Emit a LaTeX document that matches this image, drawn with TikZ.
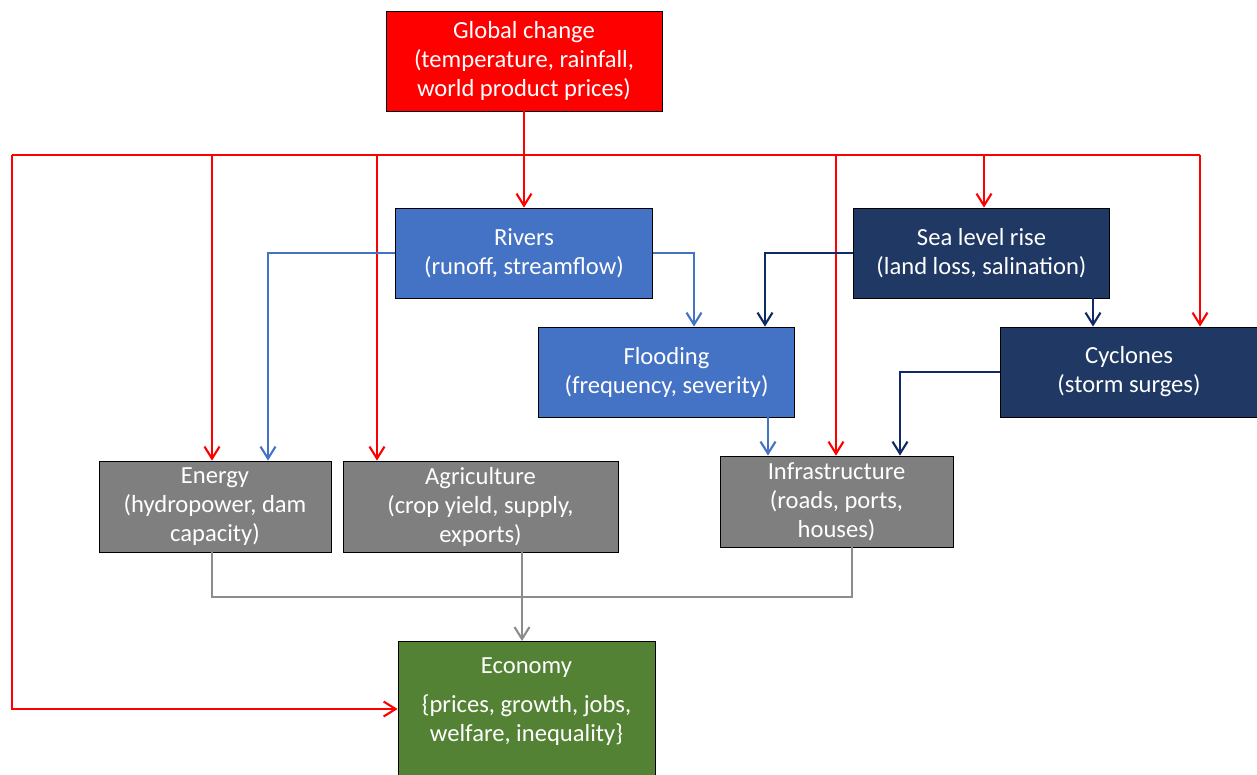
\documentclass[tikz,border=0pt]{standalone}
\usepackage{fontspec}
\setmainfont{Carlito}
\usetikzlibrary{arrows.meta}
\definecolor{chgred}{HTML}{FF0000}
\definecolor{rivblue}{HTML}{4472C4}
\definecolor{seanavy}{HTML}{203864}
\definecolor{linenavy}{HTML}{0F2A66}
\definecolor{sectgray}{HTML}{7F7F7F}
\definecolor{linegray}{HTML}{8C8C8C}
\definecolor{ecogreen}{HTML}{548235}

\begin{document}
\begin{tikzpicture}[x=0.02cm, y=-0.02cm,
  font=\fontsize{14}{16.5}\selectfont,
  box/.style={rectangle, draw=black, line width=0.5pt, text=white, align=center, inner sep=2pt},
  water/.style={box, minimum width=5.13cm, minimum height=1.8cm},
  sector/.style={box, fill=sectgray, minimum height=1.82cm},
  link/.style={line width=1.2pt, -{Straight Barb[length=0.24cm, width=0.3cm]}},
  redlink/.style={link, draw=chgred},
  bluelink/.style={link, draw=rivblue},
  navylink/.style={link, draw=linenavy},
  graylink/.style={link, draw=linegray}]

\useasboundingbox (0,0) rectangle (1257,774);

\node[box, fill=chgred, minimum width=5.52cm, minimum height=2cm] (global) at (524,61)
  {Global change\\(temperature, rainfall,\\world product prices)};

\node[water, fill=rivblue] (rivers)   at ( 524.0,253) {Rivers\\(runoff, streamflow)};
\node[water, fill=seanavy] (sea)      at ( 981.5,253) {Sea level rise\\(land loss, salination)};
\node[water, fill=rivblue] (flood)    at ( 666.5,372) {Flooding\\(frequency, severity)};
\node[water, fill=seanavy] (cyclones) at (1129.0,372) {Cyclones\\(storm surges)};

\node[sector, minimum width=4.64cm] (energy) at (215.0,506.5) {Energy\\(hydropower, dam\\capacity)};
\node[sector, minimum width=5.50cm] (agri)   at (480.5,506.5) {Agriculture\\(crop yield, supply,\\exports)};
\node[sector, minimum width=4.66cm] (infra)  at (836.5,501.5) {Infrastructure\\(roads, ports,\\houses)};

\node[box, fill=ecogreen, anchor=north, minimum width=5.14cm, inner ysep=0.32cm, text depth=1.2cm] (economy) at (526.5,641)
  {Economy\\[6pt]\{prices, growth, jobs,\\welfare, inequality\}};

\coordinate (busL) at (  12,155);
\coordinate (b1)   at ( 212,155);
\coordinate (b2)   at ( 377,155);
\coordinate (b3)   at ( 836,155);
\coordinate (b4)   at ( 984,155);
\coordinate (b5)   at (1200,155);

\draw[line width=1.2pt, chgred] (busL) -- (b5);
\draw[redlink] (global) -- (rivers);
\draw[redlink] (b1) -- (b1 |- energy.north);
\draw[redlink] (b2) -- (b2 |- agri.north);
\draw[redlink] (b3) -- (b3 |- infra.north);
\draw[redlink] (b4) -- (b4 |- sea.north);
\draw[redlink] (b5) -- (b5 |- cyclones.north);
\draw[redlink] (busL) |- (economy.west |- 0,709);

\draw[bluelink] (rivers.west) -| (268,0 |- energy.north);
\draw[bluelink] (rivers.east) -| (694,0 |- flood.north);
\draw[bluelink] (flood.south -| 768,0) -- (infra.north -| 768,0);

\draw[navylink] (sea.west) -| (765,0 |- flood.north);
\draw[navylink] (sea.south -| 1093,0) -- (cyclones.north -| 1093,0);
\draw[navylink] (cyclones.west) -| (900,0 |- infra.north);

\draw[line width=1.2pt, linegray] (energy.south -| 212,0) |- (852,597) -- (infra.south -| 852,0);
\draw[graylink] (agri.south -| 522,0) -- (economy.north -| 522,0);

\end{tikzpicture}
\end{document}
